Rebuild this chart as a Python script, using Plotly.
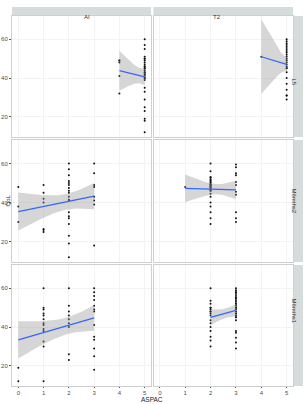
import numpy as np
import plotly.graph_objects as go

# ---- data (y values grouped by ASPAC score) ----
col_labels = ["AI", "T2"]
row_labels = ["L5", "M6mths2", "M6mths1"]
x_ticks = [0, 1, 2, 3, 4, 5]
y_ticks = [20, 40, 60]

L5_AI = {4: [49, 49, 48, 41, 32],
         5: [60, 57, 55, 51, 49, 46, 45, 43, 42, 40, 39, 35, 33, 29, 25, 23, 19, 18, 12,
             50, 48, 47, 45, 44, 43, 42, 41, 40, 50, 46]}
L5_T2 = {4: [51],
         5: [60, 59, 58, 57, 56, 55, 54, 53, 52, 51, 50, 49, 48, 47, 46,
             45, 43, 40, 37, 34, 31, 29, 31, 45]}
M2_AI = {0: [48, 38, 30],
         1: [49, 45, 42, 40, 26.5, 26, 25],
         2: [60, 57, 54, 51, 50, 49, 47.5, 46, 45, 43, 41.5, 41, 35, 33, 32, 29, 23, 19, 12],
         3: [60, 55, 49, 48, 43, 41, 39, 18]}
M2_T2 = {1: [48],
         2: [60, 56, 53, 51.5, 50.5, 49.5, 49, 48, 47, 46, 44.5, 43, 40, 38, 35, 32, 29,
             48, 49, 50, 47, 46, 51, 52, 53, 49, 48],
         3: [59.5, 58, 55, 54, 50.5, 49, 45.5, 44, 35, 32, 30]}
M1_AI = {0: [19, 12],
         1: [60, 50, 49, 47, 46, 44, 42, 41, 39, 38, 32.5, 30, 12],
         2: [60, 51, 48, 46, 44, 42, 40, 26, 23],
         3: [60, 58, 56, 54, 51, 49, 48, 41, 35, 33.5, 29, 25, 18]}
M1_T2 = {2: [60, 53.5, 52, 50, 49, 48, 46, 43.5, 42, 40, 38, 35, 33, 30, 50, 48, 47],
         3: [60, 59, 58, 57, 56, 55, 54, 53, 52, 51, 50, 49, 48, 47, 46, 45,
             47, 45, 43.5, 38, 37, 34.5, 32, 29, 55, 52, 50, 58]}

panels = [[L5_AI, L5_T2], [M2_AI, M2_T2], [M1_AI, M1_T2]]

W, H = 307, 404
col_px = [(12, 151), (153.5, 293)]
row_px = [(16, 137), (140, 262), (265, 386)]
x_range = [-0.25, 5.25]
y_range = [9.6, 72]


def t975(df):
    z = 1.959964
    g1 = (z**3 + z) / 4
    g2 = (5*z**5 + 16*z**3 + 3*z) / 96
    g3 = (3*z**7 + 19*z**5 + 17*z**3 - 15*z) / 384
    g4 = (79*z**9 + 776*z**7 + 1482*z**5 - 1920*z**3 - 945*z) / 92160
    return z + g1/df + g2/df**2 + g3/df**3 + g4/df**4


fig = go.Figure()
layout = {}
for r in range(3):
    for c in range(2):
        k = r * 2 + c + 1
        xa = "x" if k == 1 else f"x{k}"
        ya = "y" if k == 1 else f"y{k}"
        d = panels[r][c]
        xs = np.array([xv for xv, ys in d.items() for _ in ys], dtype=float)
        ys = np.array([yv for xv, yl in d.items() for yv in yl], dtype=float)
        # points
        fig.add_trace(go.Scatter(x=xs, y=ys, mode="markers", xaxis=xa, yaxis=ya,
                                 marker=dict(color="#111", size=2), showlegend=False,
                                 hoverinfo="skip"))
        # linear fit with 95% CI
        n = len(xs)
        xbar = xs.mean()
        sxx = ((xs - xbar) ** 2).sum()
        b1 = ((xs - xbar) * (ys - ys.mean())).sum() / sxx
        b0 = ys.mean() - b1 * xbar
        res = ys - (b0 + b1 * xs)
        s = np.sqrt((res ** 2).sum() / (n - 2))
        xg = np.linspace(xs.min(), xs.max(), 80)
        yg = b0 + b1 * xg
        se = s * np.sqrt(1.0 / n + (xg - xbar) ** 2 / sxx)
        tq = t975(n - 2)
        up, lo = yg + tq * se, yg - tq * se
        fig.add_trace(go.Scatter(x=np.concatenate([xg, xg[::-1]]),
                                 y=np.concatenate([up, lo[::-1]]),
                                 fill="toself", fillcolor="rgba(153,153,153,0.4)",
                                 line=dict(width=0), mode="lines", xaxis=xa, yaxis=ya,
                                 showlegend=False, hoverinfo="skip"))
        fig.add_trace(go.Scatter(x=xg, y=yg, mode="lines", xaxis=xa, yaxis=ya,
                                 line=dict(color="#3366FF", width=1.2),
                                 showlegend=False, hoverinfo="skip"))
        x0, x1 = col_px[c]
        y0, y1 = row_px[r]
        xkey = "xaxis" if k == 1 else f"xaxis{k}"
        ykey = "yaxis" if k == 1 else f"yaxis{k}"
        layout[xkey] = dict(domain=[x0 / W, x1 / W], anchor=ya, range=x_range,
                            tickvals=x_ticks, showticklabels=(r == 2),
                            ticks="outside" if r == 2 else "", ticklen=1, tickcolor="#555",
                            tickfont=dict(size=6, color="#4d4d4d"),
                            showgrid=True, gridcolor="#f3f3f3", zeroline=False,
                            showline=True, mirror=True, linecolor="#cfcfcf", linewidth=1)
        layout[ykey] = dict(domain=[1 - y1 / H, 1 - y0 / H], anchor=xa, range=y_range,
                            tickvals=y_ticks, showticklabels=(c == 0),
                            ticks="outside" if c == 0 else "", ticklen=2, tickcolor="#555",
                            tickfont=dict(size=6, color="#4d4d4d"),
                            showgrid=True, gridcolor="#f3f3f3", zeroline=False,
                            showline=True, mirror=True, linecolor="#cfcfcf", linewidth=1)

shapes = []
annotations = []
strip_col = "#d6dbdb"
for c in range(2):
    x0, x1 = col_px[c]
    shapes.append(dict(type="rect", xref="paper", yref="paper", x0=x0 / W, x1=x1 / W,
                       y0=1 - 16 / H, y1=1 - 7 / H, fillcolor=strip_col, line=dict(width=0),
                       layer="below"))
    annotations.append(dict(text=col_labels[c], xref="paper", yref="paper",
                            x=(x0 + x1) / 2 / W, y=1 - 11.5 / H, showarrow=False,
                            font=dict(size=6, color="#333")))
for r in range(3):
    y0, y1 = row_px[r]
    shapes.append(dict(type="rect", xref="paper", yref="paper", x0=294 / W, x1=303 / W,
                       y0=1 - y1 / H, y1=1 - y0 / H, fillcolor=strip_col, line=dict(width=0),
                       layer="below"))
    annotations.append(dict(text=row_labels[r], xref="paper", yref="paper",
                            x=298.5 / W, y=1 - (y0 + y1) / 2 / H, showarrow=False,
                            textangle=90, font=dict(size=6, color="#333")))
annotations.append(dict(text="ASPAC", xref="paper", yref="paper", x=152 / W, y=0,
                        yanchor="bottom", yshift=-1, showarrow=False,
                        font=dict(size=6.5, color="#222")))
annotations.append(dict(text="QoL", xref="paper", yref="paper", x=2.5 / W, y=1 - 201 / H,
                        showarrow=False, textangle=-90, font=dict(size=6, color="#222")))

fig.update_layout(width=W, height=H, margin=dict(l=0, r=0, t=0, b=0),
                  paper_bgcolor="white", plot_bgcolor="white",
                  font=dict(family="Liberation Sans"),
                  shapes=shapes, annotations=annotations, **layout)
fig.write_html("out.html")
